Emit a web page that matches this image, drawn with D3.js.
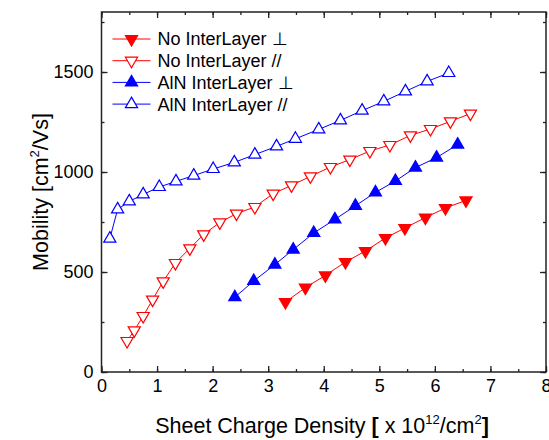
<!DOCTYPE html>
<html>
<head>
<meta charset="utf-8">
<script src="https://cdn.jsdelivr.net/npm/d3@7"></script>
<style>
  body { margin: 0; background: #fff; }
  text { font-family: "Liberation Sans", Arial, sans-serif; }
</style>
</head>
<body>
<div id="chart"></div>
<script>
// Datos
const noPerpX = [3.31, 3.67, 4.03, 4.39, 4.75, 5.11, 5.46, 5.83, 6.19, 6.56];
const noPerpY = [350, 422, 483, 550, 605, 670, 720, 772, 820, 858];

const noParX = [0.46, 0.59, 0.75, 0.92, 1.11, 1.33, 1.59, 1.84, 2.13, 2.43, 2.76, 3.09, 3.42, 3.76, 4.12, 4.47, 4.83, 5.19, 5.56, 5.92, 6.28, 6.64];
const noParY = [155, 208, 280, 362, 453, 545, 618, 688, 748, 792, 825, 892, 933, 978, 1025, 1062, 1105, 1135, 1183, 1215, 1253, 1292];

const alnPerpX = [2.40, 2.74, 3.12, 3.45, 3.82, 4.20, 4.57, 4.93, 5.29, 5.65, 6.03, 6.41];
const alnPerpY = [374, 455, 537, 612, 695, 763, 831, 898, 955, 1022, 1072, 1137];

const alnParX = [0.15, 0.29, 0.50, 0.75, 1.04, 1.34, 1.66, 2.01, 2.39, 2.76, 3.15, 3.49, 3.91, 4.30, 4.69, 5.08, 5.47, 5.86, 6.25];
const alnParY = [667, 813, 853, 888, 925, 953, 982, 1015, 1048, 1087, 1128, 1166, 1213, 1258, 1307, 1353, 1403, 1453, 1495];

const xTicks = [0, 1, 2, 3, 4, 5, 6, 7, 8];
const yTicks = [0, 500, 1000, 1500];

const series = [
  { name: "No InterLayer \u22A5", xs: noPerpX, ys: noPerpY, color: "#ff0000", down: true, filled: true },
  { name: "No InterLayer //", xs: noParX, ys: noParY, color: "#ff0000", down: true, filled: false },
  { name: "AlN InterLayer \u22A5", xs: alnPerpX, ys: alnPerpY, color: "#0000ff", down: false, filled: true },
  { name: "AlN InterLayer //", xs: alnParX, ys: alnParY, color: "#0000ff", down: false, filled: false }
];

const W = 549, H = 440;
const margin = { top: 12, right: 3, bottom: 68, left: 101.5 };
const width = W - margin.left - margin.right;
const height = H - margin.top - margin.bottom;

const svg = d3.select("#chart").append("svg")
  .attr("width", W).attr("height", H);
const g = svg.append("g").attr("transform", `translate(${margin.left},${margin.top})`);

const x = d3.scaleLinear().domain([0, 8]).range([0, width]);
const y = d3.scaleLinear().domain([0, 1800]).range([height, 0]);

// Marcadores triangulares
const tri = d3.symbol().type(d3.symbolTriangle).size(64);

// Series
series.forEach(s => {
  const pts = s.xs.map((v, i) => [v, s.ys[i]]);
  g.append("path")
    .datum(pts)
    .attr("fill", "none")
    .attr("stroke", s.color)
    .attr("stroke-width", 1)
    .attr("d", d3.line().x(d => x(d[0])).y(d => y(d[1])));
  g.selectAll(null)
    .data(pts)
    .enter()
    .append("path")
    .attr("d", tri())
    .attr("transform", d => `translate(${x(d[0])},${y(d[1])})` + (s.down ? " rotate(180)" : ""))
    .attr("fill", s.filled ? s.color : "#fff")
    .attr("stroke", s.color)
    .attr("stroke-width", 1.2);
});

// Ejes con ticks hacia dentro, reflejados arriba y a la derecha
const axisColor = "#222";
const xMinor = d3.range(0, 8.01, 0.5);
const yMinor = d3.range(0, 1801, 250);

function drawAxis(axis, transform) {
  const a = g.append("g").attr("transform", transform).call(axis);
  a.select(".domain").remove();
  a.selectAll("line").attr("stroke", axisColor).attr("stroke-width", 1.3);
  return a;
}
drawAxis(d3.axisBottom(x).tickValues(xMinor).tickSize(-3).tickFormat(""), `translate(0,${height})`);
drawAxis(d3.axisTop(x).tickValues(xMinor).tickSize(-3).tickFormat(""), "translate(0,0)");
drawAxis(d3.axisLeft(y).tickValues(yMinor).tickSize(-3).tickFormat(""), "translate(0,0)");
drawAxis(d3.axisRight(y).tickValues(yMinor).tickSize(-3).tickFormat(""), `translate(${width},0)`);

const xa = drawAxis(d3.axisBottom(x).tickValues(xTicks).tickSize(-6).tickPadding(7).tickFormat(d3.format("d")), `translate(0,${height})`);
xa.selectAll("text").attr("font-size", 18).attr("fill", "#000").attr("dy", "0.72em")
  .attr("font-family", "Liberation Sans, Arial, sans-serif");
drawAxis(d3.axisTop(x).tickValues(xTicks).tickSize(-6).tickFormat(""), "translate(0,0)");
const ya = drawAxis(d3.axisLeft(y).tickValues(yTicks).tickSize(-6).tickPadding(8).tickFormat(d3.format("d")), "translate(0,0)");
ya.selectAll("text").attr("font-size", 18).attr("fill", "#000")
  .attr("font-family", "Liberation Sans, Arial, sans-serif");
drawAxis(d3.axisRight(y).tickValues(yTicks).tickSize(-6).tickFormat(""), `translate(${width},0)`);

g.append("rect")
  .attr("width", width).attr("height", height)
  .attr("fill", "none").attr("stroke", axisColor).attr("stroke-width", 1.5);

// Leyenda
const legend = g.append("g").attr("transform", "translate(11,27)");
series.forEach((s, i) => {
  const row = legend.append("g").attr("transform", `translate(0,${i * 21.7})`);
  row.append("line").attr("x1", 0).attr("x2", 38).attr("stroke", s.color).attr("stroke-width", 1);
  row.append("path").attr("d", tri())
    .attr("transform", "translate(19,0)" + (s.down ? " rotate(180)" : ""))
    .attr("fill", s.filled ? s.color : "#fff")
    .attr("stroke", s.color).attr("stroke-width", 1.2);
  row.append("text").attr("x", 45).attr("y", 0).attr("dy", "0.36em")
    .attr("font-size", 18).attr("fill", "#000").text(s.name);
});

// Títulos de ejes
function sup(t, txt) {
  t.append("tspan").attr("font-size", 13).attr("dy", -9).text(txt);
}
function back(t, txt, bold) {
  t.append("tspan").attr("dy", 9).attr("font-weight", bold ? "bold" : null).text(txt);
}

const yl = svg.append("text")
  .attr("transform", "translate(48,192) rotate(-90)")
  .attr("text-anchor", "middle").attr("font-size", 21.5).attr("fill", "#000");
yl.append("tspan").text("Mobility [cm");
sup(yl, "2");
back(yl, "/Vs]");

const xl = svg.append("text")
  .attr("x", 322).attr("y", 433)
  .attr("text-anchor", "middle").attr("font-size", 21.5).attr("fill", "#000");
xl.append("tspan").text("Sheet Charge Density ");
xl.append("tspan").attr("font-weight", "bold").text("[");
xl.append("tspan").text(" x 10");
sup(xl, "12");
back(xl, "/cm");
sup(xl, "2");
back(xl, "]", true);
</script>
</body>
</html>
